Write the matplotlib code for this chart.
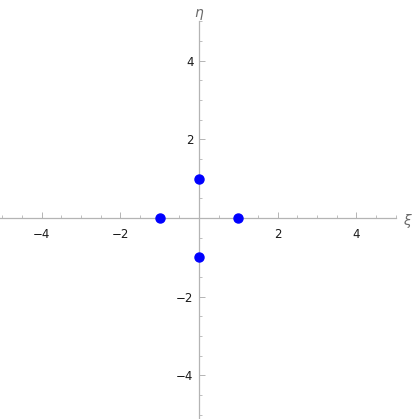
import numpy as np
import matplotlib.pyplot as plt
from matplotlib.ticker import MultipleLocator, FixedLocator

plt.rcParams["font.family"] = "DejaVu Sans"
plt.rcParams["font.size"] = 8.5

# Points du graphe
xi = [1, -1, 0, 0]
eta = [0, 0, 1, -1]

# Graduations
major_ticks = [-4, -2, 2, 4]
tick_labels = ["\u22124", "\u22122", "2", "4"]

axis_col = "#b4b4b4"
txt_col = "#1a1a1a"
lab_col = "#6a6a6a"

fig = plt.figure(figsize=(4.12, 4.19), dpi=100)
ax = fig.add_axes([0.0, 0.0, 396 / 412, 398 / 419])

ax.plot(xi, eta, "o", color="#0000ff", markersize=6.5, clip_on=False, zorder=3)

ax.set_xlim(-5.06, 5.01)
ax.set_ylim(-5.11, 5.01)

# axes au centre
for s in ["top", "right"]:
    ax.spines[s].set_visible(False)
ax.spines["left"].set_position(("data", 0))
ax.spines["bottom"].set_position(("data", 0))
ax.spines["left"].set_color(axis_col)
ax.spines["bottom"].set_color(axis_col)
ax.spines["left"].set_linewidth(0.9)
ax.spines["bottom"].set_linewidth(0.9)
ax.patch.set_visible(False)

for axis in [ax.xaxis, ax.yaxis]:
    axis.set_major_locator(FixedLocator(major_ticks))
    axis.set_minor_locator(MultipleLocator(0.5))
ax.set_xticklabels(tick_labels)
ax.set_yticklabels(tick_labels)

ax.tick_params(which="major", direction="in", length=4.5, width=0.7,
               color=axis_col, labelcolor=txt_col)
ax.tick_params(which="minor", direction="in", length=2.5, width=0.6,
               color=axis_col)
ax.tick_params(axis="x", which="major", pad=7)
ax.tick_params(axis="y", which="major", pad=4)

fig.text(407 / 412, 1 - 221 / 419, "\u03be", ha="center", va="center",
         fontsize=10, style="italic", color=lab_col)
fig.text(199 / 412, 1 - 13 / 419, "\u03b7", ha="center", va="center",
         fontsize=10, style="italic", color=lab_col)

plt.savefig("out.png", dpi=100)
